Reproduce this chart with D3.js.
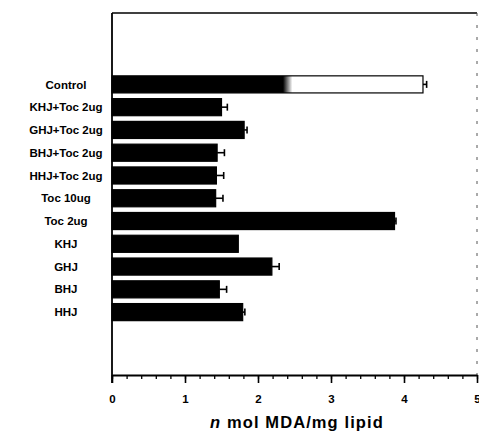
<!DOCTYPE html>
<html>
<head>
<meta charset="utf-8">
<script src="https://cdn.jsdelivr.net/npm/d3@7"></script>
<style>
    body { margin: 0; background: #fff; }
    svg { display: block; font-family: 'Liberation Sans', Arial, sans-serif; }
</style>
</head>
<body>
<div id="chart"></div>
<script>
// Data
var categories = ['Control', 'KHJ+Toc 2ug', 'GHJ+Toc 2ug', 'BHJ+Toc 2ug', 'HHJ+Toc 2ug',
    'Toc 10ug', 'Toc 2ug', 'KHJ', 'GHJ', 'BHJ', 'HHJ'];
var values = [4.26, 1.50, 1.81, 1.44, 1.43, 1.42, 3.87, 1.73, 2.19, 1.47, 1.79];
var errors = [0.05, 0.08, 0.04, 0.10, 0.10, 0.10, 0.02, 0.00, 0.10, 0.10, 0.03];
var xTicks = [0, 1, 2, 3, 4, 5];
var xTitle = 'mol MDA/mg lipid';

var W = 479, H = 434;
var margin = { top: 13, right: 2, bottom: 59, left: 112 };
var width = W - margin.left - margin.right;
var height = H - margin.top - margin.bottom;

var svg = d3.select('#chart')
    .append('svg')
    .attr('width', W)
    .attr('height', H);

// Scanned control bar: dark left part fading into an outlined white part
var defs = svg.append('defs');
var grad = defs.append('linearGradient')
    .attr('id', 'controlFill')
    .attr('x1', '0%').attr('y1', '0%')
    .attr('x2', '100%').attr('y2', '0%');
grad.append('stop').attr('offset', '55%').attr('stop-color', '#000');
grad.append('stop').attr('offset', '58%').attr('stop-color', '#fff');

var g = svg.append('g')
    .attr('transform', 'translate(' + margin.left + ',' + margin.top + ')');

var x = d3.scaleLinear().domain([0, 5]).range([0, width]);

var y = d3.scaleBand()
    .domain(categories)
    .range([60, 310.5])
    .paddingInner(0.25)
    .paddingOuter(0.125);

var data = categories.map(function(c, i) {
    return { name: c, value: values[i], err: errors[i] };
});

// Frame: top and faint right edge
g.append('line')
    .attr('x1', 0).attr('x2', width)
    .attr('y1', 0).attr('y2', 0)
    .attr('stroke', '#000').attr('stroke-width', 1.5);
g.append('line')
    .attr('x1', width).attr('x2', width)
    .attr('y1', 0).attr('y2', height)
    .attr('stroke', '#555').attr('stroke-width', 1)
    .attr('stroke-dasharray', '3,9');

// Bars
g.selectAll('.bar')
    .data(data)
    .enter()
    .append('rect')
    .attr('class', 'bar')
    .attr('x', x(0))
    .attr('y', function(d) { return y(d.name); })
    .attr('width', function(d) { return x(d.value) - x(0); })
    .attr('height', y.bandwidth())
    .attr('fill', function(d, i) { return i === 0 ? 'url(#controlFill)' : '#000'; })
    .attr('stroke', '#000')
    .attr('stroke-width', 1.2);

// Error bars
var eb = g.selectAll('.err')
    .data(data.filter(function(d) { return d.err > 0; }))
    .enter()
    .append('g')
    .attr('class', 'err');
eb.append('line')
    .attr('x1', function(d) { return x(d.value); })
    .attr('x2', function(d) { return x(d.value + d.err); })
    .attr('y1', function(d) { return y(d.name) + y.bandwidth() / 2; })
    .attr('y2', function(d) { return y(d.name) + y.bandwidth() / 2; })
    .attr('stroke', '#000').attr('stroke-width', 1.6);
eb.append('line')
    .attr('x1', function(d) { return x(d.value + d.err); })
    .attr('x2', function(d) { return x(d.value + d.err); })
    .attr('y1', function(d) { return y(d.name) + y.bandwidth() / 2 - 3.5; })
    .attr('y2', function(d) { return y(d.name) + y.bandwidth() / 2 + 3.5; })
    .attr('stroke', '#000').attr('stroke-width', 1.6);

// Category labels
g.selectAll('.cat')
    .data(categories)
    .enter()
    .append('text')
    .attr('class', 'cat')
    .attr('x', -46)
    .attr('y', function(d) { return y(d) + y.bandwidth() / 2; })
    .attr('dy', '0.36em')
    .attr('text-anchor', 'middle')
    .style('font-size', '11.5px')
    .style('font-weight', 'bold')
    .text(function(d) { return d; });

// Left axis line
g.append('line')
    .attr('x1', 0).attr('x2', 0)
    .attr('y1', 0).attr('y2', height + 8)
    .attr('stroke', '#000').attr('stroke-width', 1.8);

// X axis: minor ticks
g.append('g')
    .attr('transform', 'translate(0,' + height + ')')
    .call(d3.axisBottom(x)
        .tickValues(d3.range(0, 5.001, 0.2))
        .tickSize(4)
        .tickSizeOuter(0)
        .tickFormat(''))
    .call(function(s) {
        s.select('.domain').attr('stroke-width', 1.8);
        s.selectAll('.tick line').attr('stroke-width', 1.3);
    });

// X axis: major ticks and labels
g.append('g')
    .attr('transform', 'translate(0,' + height + ')')
    .call(d3.axisBottom(x)
        .tickValues(xTicks)
        .tickSize(8)
        .tickSizeOuter(0)
        .tickPadding(12)
        .tickFormat(d3.format('d')))
    .call(function(s) {
        s.select('.domain').remove();
        s.selectAll('.tick line').attr('stroke-width', 1.6);
        s.selectAll('.tick text')
            .style('font-size', '11.5px')
            .style('font-weight', 'bold')
            .style('font-family', "'Liberation Sans', Arial, sans-serif")
            .attr('fill', '#000');
    });

// Axis title
var title = g.append('text')
    .attr('x', 185)
    .attr('y', height + 53)
    .attr('text-anchor', 'middle')
    .style('font-size', '16.5px')
    .style('font-weight', 'bold')
    .style('letter-spacing', '1.1px');
title.append('tspan').style('font-style', 'italic').text('n ');
title.append('tspan').text(xTitle);
</script>
</body>
</html>
